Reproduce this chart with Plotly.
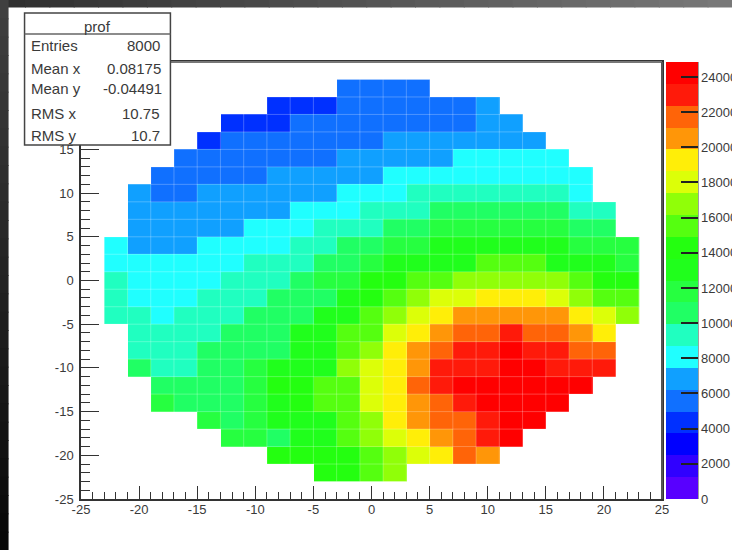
import plotly.graph_objects as go

N = None
x_centers = [-22, -20, -18, -16, -14, -12, -10, -8, -6, -4, -2, 0, 2, 4, 6, 8, 10, 12, 14, 16, 18, 20, 22]
y_centers = [22, 20, 18, 16, 14, 12, 10, 8, 6, 4, 2, 0, -2, -4, -6, -8, -10, -12, -14, -16, -18, -20, -22]

row_p22 = [N,N,N,N,N,N,N,N,N,N,5600,5600,5600,5600,N,N,N,N,N,N,N,N,N]
row_p20 = [N,N,N,N,N,N,N,4350,4350,4350,5600,5600,5600,5600,5600,5600,6830,N,N,N,N,N,N]
row_p18 = [N,N,N,N,N,4350,4350,4350,5600,5600,5600,5600,5600,5600,5600,5600,6830,6830,N,N,N,N,N]
row_p16 = [N,N,N,N,4350,5600,5600,5600,5600,5600,5600,5600,6830,6830,6830,6830,6830,6830,6830,N,N,N,N]
row_p14 = [N,N,N,5600,5600,5600,5600,5600,5600,5600,6830,6830,6830,6830,6830,8080,8080,8080,8080,8080,N,N,N]
row_p12 = [N,N,5600,5600,5600,5600,5600,6830,6830,6830,6830,6830,8080,8080,8080,8080,8080,8080,8080,8080,8080,N,N]
row_p10 = [N,6830,5600,5600,6830,6830,6830,6830,6830,6830,8080,8080,8080,9320,9320,9320,9320,9320,9320,9320,8080,N,N]
row_p08 = [N,6830,6830,6830,6830,6830,6830,6830,8080,8080,8080,9320,9320,9320,10560,10560,10560,10560,10560,10560,9320,9320,N]
row_p06 = [N,6830,6830,6830,6830,6830,8080,8080,8080,9320,9320,9320,10560,10560,11800,11800,11800,11800,11800,11800,10560,10560,N]
row_p04 = [8080,6830,6830,6830,8080,8080,8080,8080,9320,9320,10560,10560,11800,11800,13050,13050,13050,13050,13050,13050,11800,11800,11800]
row_p02 = [8080,8080,8080,8080,8080,8080,9320,9320,9320,10560,10560,11800,13050,13050,13050,13050,15530,15530,15530,13050,13050,13050,11800]
row_000 = [9320,8080,8080,8080,8080,9320,9320,9320,10560,11800,11800,14300,14300,15530,15530,16780,16780,16780,16780,16780,15530,14300,14300]
row_m02 = [9320,8080,8080,8080,9320,9320,9320,10560,10560,10560,13050,14300,15530,16780,18020,18020,19260,19260,19260,18020,16780,15530,15530]
row_m04 = [9320,9320,8080,9320,9320,9320,10560,10560,10560,13050,13050,15530,16780,18020,19260,20500,20500,20500,20500,20500,19260,18020,16780]
row_m06 = [N,9320,9320,9320,9320,10560,10560,10560,13050,13050,15530,15530,18020,19260,20500,21740,21740,22990,21740,21740,20500,19260,N]
row_m08 = [N,9320,9320,9320,10560,10560,10560,10560,13050,13050,15530,16780,19260,20500,21740,22990,22990,24230,22990,22990,21740,21740,N]
row_m10 = [N,10560,9320,9320,10560,10560,11800,13050,13050,13050,16780,18020,19260,20500,22990,22990,22990,24230,24230,22990,22990,22990,N]
row_m12 = [N,N,10560,10560,10560,10560,11800,14300,14300,15530,15530,18020,19260,21740,22990,24230,24230,24230,24230,24230,24230,N,N]
row_m14 = [N,N,11800,10560,10560,10560,11800,13050,14300,15530,15530,18020,19260,20500,21740,22990,24230,24230,24230,24230,N,N,N]
row_m16 = [N,N,N,N,11800,10560,11800,13050,13050,13050,15530,16780,19260,20500,21740,21740,22990,24230,24230,N,N,N,N]
row_m18 = [N,N,N,N,N,11800,11800,10560,13050,13050,15530,16780,18020,19260,20500,21740,22990,24230,N,N,N,N,N]
row_m20 = [N,N,N,N,N,N,N,14300,14300,14300,14300,15530,16780,18020,19260,21740,20500,N,N,N,N,N,N]
row_m22 = [N,N,N,N,N,N,N,N,N,14300,14300,15530,16780,N,N,N,N,N,N,N,N,N,N]

z_rows = [row_p22, row_p20, row_p18, row_p16, row_p14, row_p12, row_p10, row_p08, row_p06, row_p04, row_p02, row_000,
          row_m02, row_m04, row_m06, row_m08, row_m10, row_m12, row_m14, row_m16, row_m18, row_m20, row_m22]

axis_ticks = [-25, -20, -15, -10, -5, 0, 5, 10, 15, 20, 25]
x_labels = ["-25", "-20", "-15", "-10", "-5", "0", "5", "10", "15", "20", "25"]
y_labels = ["-25", "-20", "-15", "-10", "-5", "0", "5", "10", "15", "", ""]
bar_ticks = [0, 2000, 4000, 6000, 8000, 10000, 12000, 14000, 16000, 18000, 20000, 22000, 24000]
z_max = 24850
band_colors = ["#5800ff", "#3000ff", "#0000ff", "#0030ff", "#1070ff", "#10a0ff", "#20ffff", "#20ffc0", "#20ff64", "#26ff40",
               "#20ff1c", "#24ff10", "#55ff10", "#90ff08", "#dcff08", "#ffee08", "#ff9608", "#ff6408", "#ff1a0a", "#ff0000"]
stat_names = ["Entries", "Mean x", "Mean y", "RMS x", "RMS y"]
stat_values = ["8000", "0.08175", "-0.04491", "10.75", "10.7"]
stat_text_y = [46, 69, 88, 114, 135]
stat_value_right = [162, 163, 164, 162, 162]

W, H = 732, 550
L, R, T, B = 80.5, 662, 62, 499
TXT = "#3a3a3a"
FONT = "Liberation Sans"


def px(v):
    return (v - L) / (R - L)


def py(v):
    return (B - v) / (B - T)


n = len(band_colors)
colorscale = []
for k, c in enumerate(band_colors):
    colorscale.append([k / n, c])
    colorscale.append([(k + 1) / n, c])

fig = go.Figure(go.Heatmap(
    x=x_centers, y=y_centers, z=z_rows, zmin=0, zmax=z_max, colorscale=colorscale, hoverongaps=False,
    colorbar=dict(
        x=px(666), xanchor="left", xpad=0, y=0.5, yanchor="middle", ypad=0, len=1, thickness=32,
        outlinewidth=0, ticks="inside", ticklen=17, tickwidth=1.5, tickcolor="#222",
        tickmode="array", tickvals=bar_ticks, ticktext=[str(v) for v in bar_ticks],
        tickfont=dict(family=FONT, size=13, color=TXT),
    ),
))

shapes = []
edges = list(range(-23, 24, 2))
for e in edges:
    shapes.append(dict(type="line", xref="x", yref="y", x0=e, x1=e, y0=-23, y1=23, layer="above",
                       line=dict(color="rgba(255,255,255,0.25)", width=1)))
    shapes.append(dict(type="line", xref="x", yref="y", x0=-23, x1=23, y0=e, y1=e, layer="above",
                       line=dict(color="rgba(255,255,255,0.25)", width=1)))

# upper and right frame lines are lighter, the colour bar has a dark right edge
shapes.append(dict(type="line", xref="paper", yref="paper", x0=0, x1=1, y0=1, y1=1, layer="above",
                   line=dict(color="#777", width=2)))
shapes.append(dict(type="line", xref="paper", yref="paper", x0=1, x1=1, y0=0, y1=1, layer="above",
                   line=dict(color="#555", width=2)))
shapes.append(dict(type="line", xref="paper", yref="paper", x0=px(698), x1=px(698), y0=0, y1=1, layer="above",
                   line=dict(color="#333", width=1)))

steps = 30
for s in range(steps):
    g = int(0x30 + (0x78 - 0x30) * s / (steps - 1))
    shapes.append(dict(type="rect", xref="paper", yref="paper", x0=px(W * s / steps), x1=px(W * (s + 1) / steps + 1),
                       y0=py(7.5), y1=py(-1), fillcolor=f"rgb({g},{g},{g})", line=dict(width=0), layer="above"))
    g2 = int(0x40 + (0x08 - 0x40) * s / (steps - 1))
    shapes.append(dict(type="rect", xref="paper", yref="paper", x0=px(-1), x1=px(8), y0=py(H * s / steps),
                       y1=py(H * (s + 1) / steps + 1), fillcolor=f"rgb({g2},{g2},{g2})", line=dict(width=0), layer="above"))

shapes.append(dict(type="rect", xref="paper", yref="paper", x0=px(24), x1=px(170), y0=py(145), y1=py(13),
                   fillcolor="white", line=dict(color="#444", width=1.5), layer="above"))
shapes.append(dict(type="line", xref="paper", yref="paper", x0=px(24), x1=px(170), y0=py(34), y1=py(34),
                   line=dict(color="#666", width=1.5), layer="above"))

annotations = [dict(text="prof", xref="paper", yref="paper", x=px(97), y=py(26), xanchor="center", yanchor="middle",
                    showarrow=False, font=dict(family=FONT, size=15, color=TXT))]
for name, value, yy, xr in zip(stat_names, stat_values, stat_text_y, stat_value_right):
    annotations.append(dict(text=name, xref="paper", yref="paper", x=px(28), y=py(yy), xanchor="left", yanchor="middle",
                            showarrow=False, font=dict(family=FONT, size=15, color=TXT)))
    annotations.append(dict(text=value, xref="paper", yref="paper", x=px(xr), y=py(yy), xanchor="right", yanchor="middle",
                            showarrow=False, font=dict(family=FONT, size=15, color=TXT)))

axis_common = dict(
    range=[-25, 25], tickmode="array", tickvals=axis_ticks, ticks="inside",
    showgrid=False, zeroline=False, showline=True, linecolor="#333", linewidth=1.5, mirror=True,
    tickcolor="#333", tickwidth=1, tickfont=dict(family=FONT, size=13, color=TXT),
)
fig.update_xaxes(**axis_common, ticktext=x_labels, ticklen=13, ticklabelstandoff=-2,
                 minor=dict(tickmode="linear", tick0=-25, dtick=1, ticks="inside", ticklen=7, tickcolor="#333", tickwidth=1, showgrid=False))
fig.update_yaxes(**axis_common, ticktext=y_labels, ticklen=18, ticklabelstandoff=3,
                 minor=dict(tickmode="linear", tick0=-25, dtick=1, ticks="inside", ticklen=9, tickcolor="#333", tickwidth=1, showgrid=False))

fig.update_layout(
    width=W, height=H, autosize=False, paper_bgcolor="white", plot_bgcolor="white", showlegend=False,
    margin=dict(l=L, r=W - R, t=T, b=H - B, pad=0, autoexpand=False),
    shapes=shapes, annotations=annotations,
)
fig.write_html("out.html", config={"displayModeBar": False},
               post_script="document.body.style.margin='0';document.body.style.overflow='hidden';")
